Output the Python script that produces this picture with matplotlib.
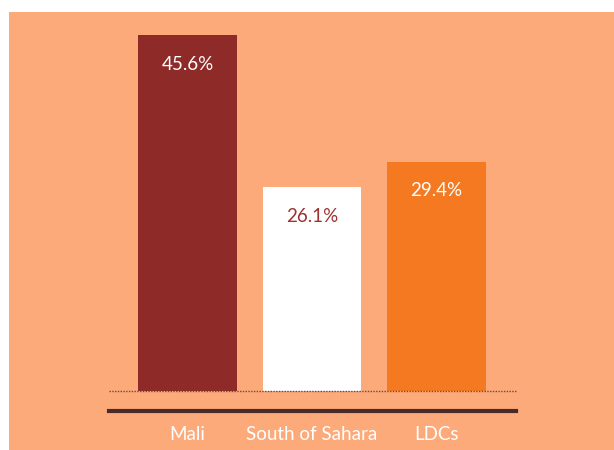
import matplotlib
matplotlib.use('Agg')
import matplotlib.pyplot as plt
from matplotlib.patches import Rectangle
from matplotlib.lines import Line2D
import matplotlib.transforms as mtransforms

categories = ['Mali', 'South of Sahara', 'LDCs']
values = [45.6, 26.1, 29.4]
labels = ['45.6%', '26.1%', '29.4%']

bar_colors = ['#8e2a28', '#ffffff', '#f47920']
label_colors = ['#ffffff', '#9b3330', '#ffffff']
bg = '#fdaa7a'

plt.rcParams['font.family'] = ['Lato', 'DejaVu Sans']

W, H = 614, 450
fig = plt.figure(figsize=(W / 100, H / 100), dpi=100)
fig.patch.set_facecolor('white')

# salmon panel, leaves a thin white margin top and left
fig.add_artist(Rectangle((9 / W, 0), 1 - 9 / W, 1 - 12 / H,
                         transform=fig.transFigure, facecolor=bg,
                         edgecolor='none', zorder=0))

ax = fig.add_axes([109 / W, (H - 391) / H, (516 - 109) / W, (391 - 12) / H])
ax.set_facecolor('none')
x = list(range(len(categories)))
ax.bar(x, values, width=0.795, color=bar_colors, zorder=2)
ax.set_xlim(-0.6305, 2.6386)
ax.set_ylim(0, 379 / 7.8)
ax.axhline(0, color='#6b4a3a', linestyle=(0, (1, 1)), lw=1.0, zorder=3,
           clip_on=False)

for xi, v, lab, c in zip(x, values, labels, label_colors):
    ax.annotate(lab, (xi, v), xytext=(0, -21), textcoords='offset points',
                ha='center', va='center', color=c, fontsize=13.5)

ax.axis('off')

# heavy baseline under the bars
fig.add_artist(Line2D([109 / W, 516 / W], [(H - 411) / H] * 2,
                      transform=fig.transFigure, color='#4a2a28', lw=3))

trans = mtransforms.blended_transform_factory(ax.transData, fig.transFigure)
for xi, name in zip(x, categories):
    ax.text(xi, (H - 434) / H, name, transform=trans, ha='center', va='center',
            color='white', fontsize=13.5, clip_on=False)

fig.savefig('out.png', dpi=100, facecolor=fig.get_facecolor())
